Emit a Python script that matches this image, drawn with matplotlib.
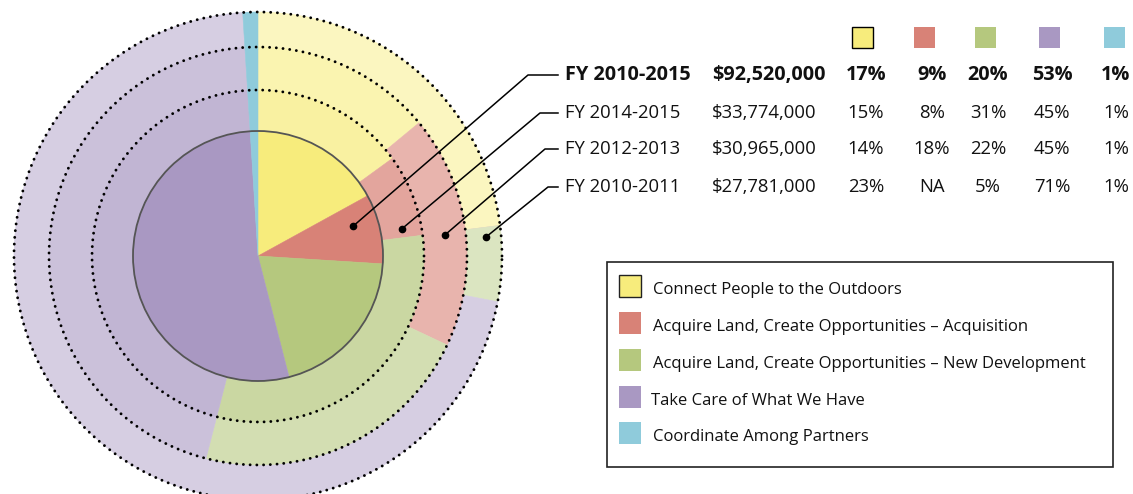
import numpy as np
import matplotlib
matplotlib.use("Agg")
import matplotlib.pyplot as plt
from matplotlib.patches import Rectangle, Circle

plt.rcParams['font.family'] = ['Open Sans', 'DejaVu Sans']

# ---------------- data ----------------
categories = ["Connect People to the Outdoors",
              "Acquire Land, Create Opportunities \u2013 Acquisition",
              "Acquire Land, Create Opportunities \u2013 New Development",
              "Take Care of What We Have",
              "Coordinate Among Partners"]
periods = ["FY 2010-2015", "FY 2014-2015", "FY 2012-2013", "FY 2010-2011"]
totals = ["$92,520,000", "$33,774,000", "$30,965,000", "$27,781,000"]
share_2010_2015 = [17, 9, 20, 53, 1]
share_2014_2015 = [15, 8, 31, 45, 1]
share_2012_2013 = [14, 18, 22, 45, 1]
share_2010_2011 = [23, None, 5, 71, 1]   # None = NA
base_colors = ["#f7ec7c", "#d88277", "#b5c87e", "#a998c2", "#8fcbdb"]

# ---------------- layout ----------------
W, H = 1133, 494
fig = plt.figure(figsize=(W / 100, H / 100), dpi=100)
ax = fig.add_axes([0, 0, 1, 1])

def Y(y):  # image row -> data y
    return H - y

cx, cy = 258, Y(256)
radii = [125, 166, 209, 244]
ring_alpha = [1.0, 0.72, 0.6, 0.48]

def tint(c, a):
    rgb = np.array(matplotlib.colors.to_rgb(c))
    return tuple(1 - a * (1 - rgb))

all_series = [share_2010_2015, share_2014_2015, share_2012_2013, share_2010_2011]
for i in range(3, -1, -1):
    vals = [0 if v is None else v for v in all_series[i]]
    cols = [tint(c, ring_alpha[i]) if k != 4 else base_colors[4]
            for k, c in enumerate(base_colors)]
    if i == 0:
        wp = dict(linewidth=0.4)
    else:
        wp = dict(width=radii[i] - radii[i - 1], linewidth=0.4)
    wedges, _ = ax.pie(vals, radius=radii[i], center=(cx, cy), startangle=90,
                       counterclock=False, colors=cols, wedgeprops=wp, frame=True)
    for w, c in zip(wedges, cols):
        w.set_edgecolor(c)

# inner solid edge
ax.add_patch(Circle((cx, cy), radii[0], fill=False, ec="#555555", lw=1.3, zorder=5))
# dotted ring edges
for r in radii[1:]:
    th = np.linspace(0, 2 * np.pi, 720)
    ax.plot(cx + r * np.cos(th), cy + r * np.sin(th), color="black", lw=2.1,
            linestyle=(0, (0.01, 2.3)), dash_capstyle="round", zorder=6)

# callouts: dot (radius, clockwise angle from top) -> bend -> text
dot_r = [100, 146, 188, 229]
dot_ang = [72.5, 79.4, 83.6, 85.2]
row_y = [75, 113, 149, 187]
bend_x = [528, 540, 545, 548]
line_end_x = 558
for i in range(4):
    a = np.deg2rad(dot_ang[i])
    dx, dy = cx + dot_r[i] * np.sin(a), cy + dot_r[i] * np.cos(a)
    ax.plot([dx, bend_x[i], line_end_x], [dy, Y(row_y[i]), Y(row_y[i])],
            color="black", lw=1.1, zorder=7)
    ax.plot(dx, dy, "o", color="black", ms=4.5, zorder=8)

# table
fs = 13.3
fs_bold = 14.3
label_x = 565
money_x = 712
col_x = [866, 932, 988, 1052, 1116]
sw_x = [852, 914, 975, 1039, 1104]
for k in range(5):
    ax.add_patch(Rectangle((sw_x[k], Y(48)), 21, 21, fc=base_colors[k],
                           ec="black" if k == 0 else "none", lw=1.0, zorder=5))
for i in range(4):
    fw = "bold" if i == 0 else "normal"
    size = fs_bold if i == 0 else fs
    ax.text(label_x, Y(row_y[i]), periods[i], fontsize=size, fontweight=fw,
            ha="left", va="center", color="#111111")
    ax.text(money_x, Y(row_y[i]), totals[i], fontsize=size, fontweight=fw,
            ha="left", va="center", color="#111111")
    for k in range(5):
        v = all_series[i][k]
        s = "NA" if v is None else f"{v}%"
        ax.text(col_x[k], Y(row_y[i]), s, fontsize=size, fontweight=fw,
                ha="center", va="center", color="#111111")

# legend box
ax.add_patch(Rectangle((607, Y(467)), 1113 - 607, 467 - 262, fill=False,
                       ec="#222222", lw=1.2, zorder=5))
leg_y = [286, 323, 360, 397, 433]
for k in range(5):
    ax.add_patch(Rectangle((619, Y(leg_y[k]) - 11), 22, 22, fc=base_colors[k],
                           ec="#222222" if k == 0 else "none", lw=1.0, zorder=6))
    ax.text(653 if k != 3 else 651, Y(leg_y[k] + 4), categories[k], fontsize=12.0,
            ha="left", va="center", color="#111111")

ax.set_xlim(0, W)
ax.set_ylim(0, H)
ax.set_aspect("equal")
ax.axis("off")

fig.savefig("out.png", dpi=100)
